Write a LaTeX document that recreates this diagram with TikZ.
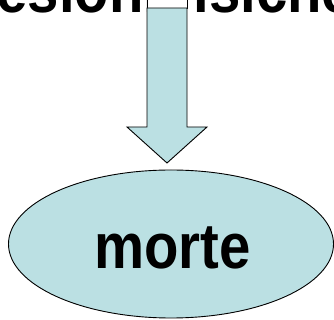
\documentclass[tikz,border=0pt]{standalone}
\usepackage{fontspec}
\setmainfont{Liberation Sans}
\definecolor{paleblue}{RGB}{187,224,227}
\begin{document}
\begin{tikzpicture}[x=1pt,y=1pt,
  bigtext/.style={font=\fontsize{64}{70}\selectfont\bfseries, inner sep=0pt, xscale=0.88, transform shape, anchor=base},
  shapeline/.style={draw=black, line width=0.9pt, line join=miter}]
\useasboundingbox (0,0) rectangle (334,320);
\begin{scope}
\clip (0,0) rectangle (334,320);
% top text, partly cut off
\node[bigtext] (top) at (167,307) {lesioni fisiche};
% white box above arrow
\draw[shapeline, fill=white] (147,320.5) rectangle (187,312);
% block arrow
\draw[shapeline, fill=paleblue] (147,312) -- (187,312) -- (187,193) -- (207,193) -- (167,157) -- (127,193) -- (147,193) -- cycle;
% ellipse
\draw[shapeline, fill=paleblue] (171,76) ellipse [x radius=162.5, y radius=74];
\node[bigtext] (morte) at (172.5,51) {morte};
\end{scope}
\end{tikzpicture}
\end{document}
